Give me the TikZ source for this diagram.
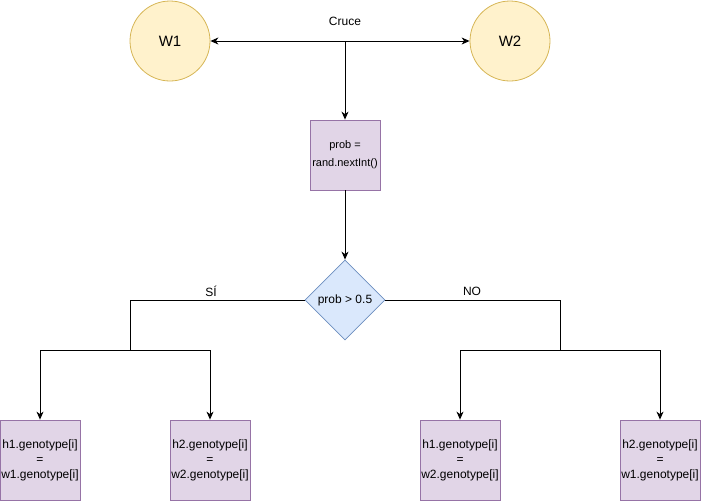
\documentclass[tikz,border=0pt]{standalone}
\usepackage{fontspec}
\setmainfont{Liberation Sans}
\usetikzlibrary{shapes.geometric,arrows.meta}
\definecolor{yfill}{HTML}{FFF2CC}
\definecolor{ydraw}{HTML}{D6B656}
\definecolor{pfill}{HTML}{E1D5E7}
\definecolor{pdraw}{HTML}{9673A6}
\definecolor{bfill}{HTML}{DAE8FC}
\definecolor{bdraw}{HTML}{6C8EBF}
\tikzset{
  wnode/.style={circle,draw=ydraw,fill=yfill,line width=0.8pt,minimum size=80pt,inner sep=0pt,font=\fontsize{15}{18}\selectfont},
  probbox/.style={rectangle,draw=pdraw,fill=pfill,line width=0.8pt,minimum width=70pt,minimum height=70pt,inner sep=0pt,align=center,font=\fontsize{11}{18}\selectfont},
  decision/.style={diamond,draw=bdraw,fill=bfill,line width=0.8pt,minimum width=80pt,minimum height=80pt,inner sep=0pt,font=\fontsize{12}{14}\selectfont},
  genbox/.style={rectangle,draw=pdraw,fill=pfill,line width=0.8pt,minimum width=80pt,minimum height=80pt,inner sep=0pt,align=center,font=\fontsize{12}{15}\selectfont},
  lbl/.style={font=\fontsize{12}{14}\selectfont,inner sep=0pt},
  conn/.style={line width=1pt,black},
  arr/.style={conn,-{Stealth[length=8pt,width=7pt,inset=2.5pt]}}
}
\begin{document}
\begin{tikzpicture}[x=1pt,y=-1pt]
\useasboundingbox (0,0) rectangle (701,501);
\node[wnode] (w1) at (170,41) {W1};
\node[wnode] (w2) at (510,41) {W2};
\coordinate (j) at (345,41);
\node[lbl] (cruce) at (345,21) {Cruce};
\node[probbox] (prob) at (345,155) {prob =\\rand.nextInt()};
\node[decision] (d) at (345,300) {prob > 0.5};
\node[genbox] (b1) at (40,460) {h1.genotype[i]\\=\\w1.genotype[i]};
\node[genbox] (b2) at (210,460) {h2.genotype[i]\\=\\w2.genotype[i]};
\node[genbox] (b3) at (460,460) {h1.genotype[i]\\=\\w2.genotype[i]};
\node[genbox] (b4) at (660,460) {h2.genotype[i]\\=\\w1.genotype[i]};
\coordinate (ls) at (130,350);
\coordinate (rs) at (560,350);
\node[lbl] (si) at (211,291) {SÍ};
\node[lbl] (no) at (472,291) {NO};
\draw[arr] (j) -- (w1);
\draw[arr] (j) -- (w2);
\draw[arr] (j) -- (prob);
\draw[arr] (prob) -- (d);
\draw[conn] (d.west) -| (ls);
\draw[conn] (d.east) -| (rs);
\draw[arr] (ls) -| (b1.north);
\draw[arr] (ls) -| (b2.north);
\draw[arr] (rs) -| (b3.north);
\draw[arr] (rs) -| (b4.north);
\end{tikzpicture}
\end{document}
